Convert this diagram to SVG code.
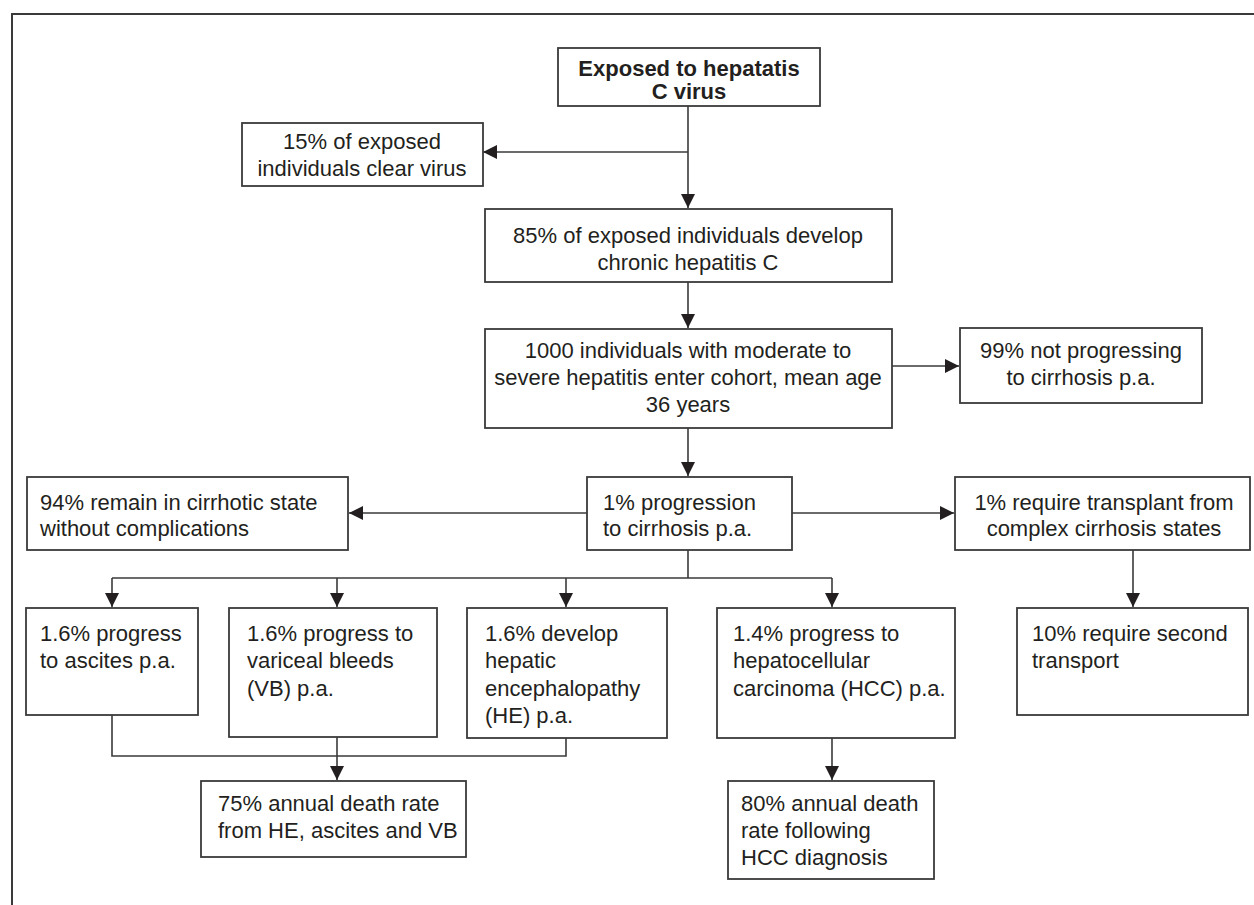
<svg xmlns="http://www.w3.org/2000/svg" width="1254" height="905" viewBox="0 0 1254 905">
<style>
.box{fill:#fff;stroke:#3a3a3a;stroke-width:1.8}
.t{font-family:"Liberation Sans",Arial,sans-serif;font-size:22px;fill:#231f20}
.c{text-anchor:middle}
.b{font-weight:bold}
.ln{fill:none;stroke:#3a3a3a;stroke-width:1.6}
</style>
<defs>
<marker id="ah" markerUnits="userSpaceOnUse" markerWidth="14" markerHeight="14" viewBox="0 0 12 12" refX="12" refY="6" orient="auto">
<path d="M0,0 L12,6 L0,12 z" fill="#231f20"/>
</marker>
</defs>
<rect width="1254" height="905" fill="#fff"/>
<path d="M12,905 V14 H1254" fill="none" stroke="#3a3a3a" stroke-width="2"/>

<g id="connectors">
<path class="ln" d="M688,106 V208" marker-end="url(#ah)"/>
<path class="ln" d="M688,152 H483" marker-end="url(#ah)"/>
<path class="ln" d="M688,282 V328" marker-end="url(#ah)"/>
<path class="ln" d="M892,366 H959" marker-end="url(#ah)"/>
<path class="ln" d="M688,428 V476" marker-end="url(#ah)"/>
<path class="ln" d="M587,513 H349" marker-end="url(#ah)"/>
<path class="ln" d="M792,513 H954" marker-end="url(#ah)"/>
<path class="ln" d="M688,550 V578"/>
<path class="ln" d="M112,578 H832"/>
<path class="ln" d="M112,578 V607" marker-end="url(#ah)"/>
<path class="ln" d="M337,578 V607" marker-end="url(#ah)"/>
<path class="ln" d="M566,578 V607" marker-end="url(#ah)"/>
<path class="ln" d="M832,578 V607" marker-end="url(#ah)"/>
<path class="ln" d="M1133,550 V607" marker-end="url(#ah)"/>
<path class="ln" d="M112,715 V756 H566 V738"/>
<path class="ln" d="M337,737 V780" marker-end="url(#ah)"/>
<path class="ln" d="M832,738 V780" marker-end="url(#ah)"/>
</g>

<g id="exposed">
<rect class="box" x="558" y="48" width="262" height="58"/>
<text class="t b c" x="689" y="76">Exposed to hepatatis</text>
<text class="t b c" x="689" y="99">C virus</text>
</g>

<g id="clear">
<rect class="box" x="242" y="123" width="241" height="63"/>
<text class="t c" x="362" y="149">15% of exposed</text>
<text class="t c" x="362" y="176">individuals clear virus</text>
</g>

<g id="chronic">
<rect class="box" x="485" y="209" width="407" height="73"/>
<text class="t c" x="688" y="243">85% of exposed individuals develop</text>
<text class="t c" x="688" y="270">chronic hepatitis C</text>
</g>

<g id="cohort">
<rect class="box" x="485" y="329" width="407" height="99"/>
<text class="t c" x="688" y="358">1000 individuals with moderate to</text>
<text class="t c" x="688" y="385">severe hepatitis enter cohort, mean age</text>
<text class="t c" x="688" y="412">36 years</text>
</g>

<g id="notprog">
<rect class="box" x="960" y="328" width="242" height="75"/>
<text class="t c" x="1081" y="358">99% not progressing</text>
<text class="t c" x="1081" y="385">to cirrhosis p.a.</text>
</g>

<g id="cirrhosis">
<rect class="box" x="587" y="477" width="205" height="73"/>
<text class="t" x="603" y="510">1% progression</text>
<text class="t" x="603" y="536">to cirrhosis p.a.</text>
</g>

<g id="remain">
<rect class="box" x="27" y="477" width="321" height="73"/>
<text class="t" x="40" y="510">94% remain in cirrhotic state</text>
<text class="t" x="40" y="536">without complications</text>
</g>

<g id="transplant">
<rect class="box" x="955" y="477" width="295" height="73"/>
<text class="t c" x="1104" y="510">1% require transplant from</text>
<text class="t c" x="1104" y="536">complex cirrhosis states</text>
</g>

<g id="ascites">
<rect class="box" x="26" y="608" width="172" height="107"/>
<text class="t" x="40" y="641">1.6% progress</text>
<text class="t" x="40" y="668">to ascites p.a.</text>
</g>

<g id="vb">
<rect class="box" x="229" y="608" width="208" height="129"/>
<text class="t" x="247" y="641">1.6% progress to</text>
<text class="t" x="247" y="668">variceal bleeds</text>
<text class="t" x="247" y="696">(VB) p.a.</text>
</g>

<g id="he">
<rect class="box" x="467" y="608" width="200" height="130"/>
<text class="t" x="485" y="641">1.6% develop</text>
<text class="t" x="485" y="668">hepatic</text>
<text class="t" x="485" y="696">encephalopathy</text>
<text class="t" x="485" y="723">(HE) p.a.</text>
</g>

<g id="hcc">
<rect class="box" x="717" y="608" width="238" height="130"/>
<text class="t" x="733" y="641">1.4% progress to</text>
<text class="t" x="733" y="668">hepatocellular</text>
<text class="t" x="733" y="696">carcinoma (HCC) p.a.</text>
</g>

<g id="second">
<rect class="box" x="1017" y="608" width="231" height="107"/>
<text class="t" x="1032" y="641">10% require second</text>
<text class="t" x="1032" y="668">transport</text>
</g>

<g id="death75">
<rect class="box" x="201" y="781" width="265" height="76"/>
<text class="t" x="218" y="811">75% annual death rate</text>
<text class="t" x="218" y="838">from HE, ascites and VB</text>
</g>

<g id="death80">
<rect class="box" x="728" y="781" width="206" height="98"/>
<text class="t" x="741" y="811">80% annual death</text>
<text class="t" x="741" y="838">rate following</text>
<text class="t" x="741" y="865">HCC diagnosis</text>
</g>
</svg>
